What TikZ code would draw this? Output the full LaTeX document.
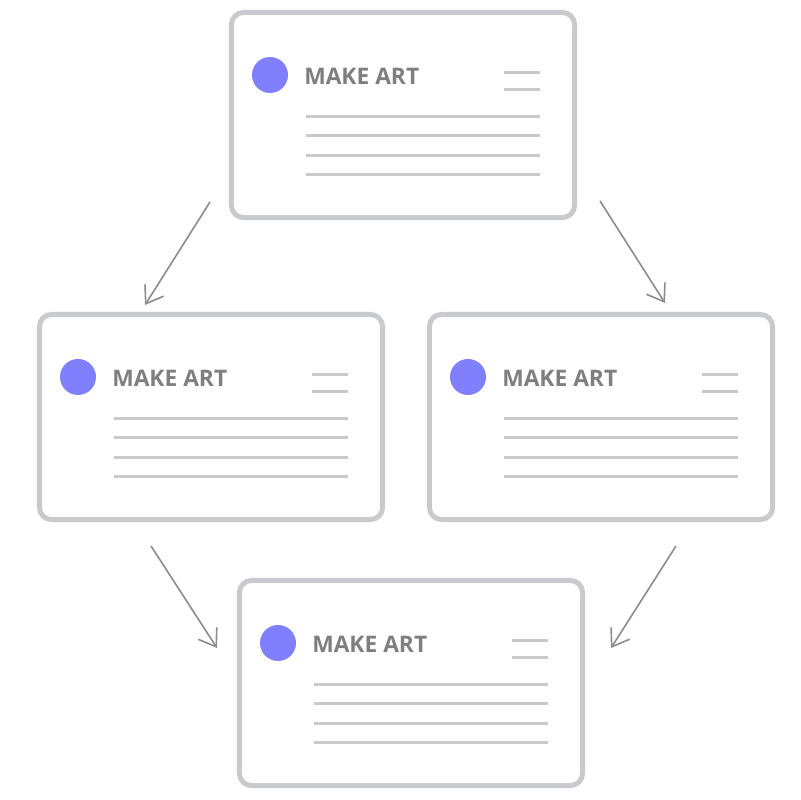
\documentclass[tikz,border=0pt]{standalone}
\usepackage{fontspec}
\setmainfont{Open Sans}
\usetikzlibrary{arrows.meta, calc, positioning}
\definecolor{cardline}{HTML}{C8CACD}
\definecolor{barline}{HTML}{C8C9CB}
\definecolor{dotblue}{HTML}{8080FF}
\definecolor{titlegray}{HTML}{7F7F7F}
\definecolor{arrowgray}{HTML}{8C8C8C}

% one card: frame, blue dot, title and text bars
\newcommand\makecard[2]{%
  \node[card] (#1) at (#2) {};
  \fill[dotblue] ($(#1)+(-133,40)$) circle[radius=18];
  \node[cardtitle] (#1title) at ($(#1)+(-99,30)$) {MAKE ART};
  \draw[textbar] ($(#1)+(101,42.3)$) -- ++(36,0);
  \draw[textbar] ($(#1)+(101,25.3)$) -- ++(36,0);
  \foreach \dy in {-1.3,-20.7,-40.3,-59.7}
    \draw[textbar] ($(#1)+(-97,\dy)$) -- ++(234,0);
}

\begin{document}
\begin{tikzpicture}[x=0.025cm, y=0.025cm,
         > = {Straight Barb[length=4mm, width=5.5mm]},
card/.style = {draw=cardline, line width=0.125cm, fill=white,
               rounded corners=0.3cm,
               minimum width=8.575cm, minimum height=5.125cm,
               inner sep=0pt, outer sep=0pt},
cardtitle/.style = {anchor=base west, inner sep=0pt, text=titlegray,
                    font=\fontsize{16.2}{18}\selectfont\bfseries},
textbar/.style = {draw=barline, line width=0.0875cm},
flow/.style = {draw=arrowgray, line width=0.04cm, ->}
                    ]
	\useasboundingbox (0,0) rectangle (800,800);

	\makecard{cardtop}{403,685}
	\makecard{cardleft}{211,383}
	\makecard{cardright}{601,383}
	\makecard{cardbottom}{411,117}

	% arrow ends
	\coordinate (ts1) at (210,598);
	\coordinate (te1) at (145,495);
	\coordinate (ts2) at (600,599);
	\coordinate (te2) at (665,497);
	\coordinate (bs1) at (151,254);
	\coordinate (be1) at (217,152);
	\coordinate (bs2) at (676,254);
	\coordinate (be2) at (611,152);

	\draw[flow] (ts1) -- (te1);
	\draw[flow] (ts2) -- (te2);
	\draw[flow] (bs1) -- (be1);
	\draw[flow] (bs2) -- (be2);
\end{tikzpicture}
\end{document}
